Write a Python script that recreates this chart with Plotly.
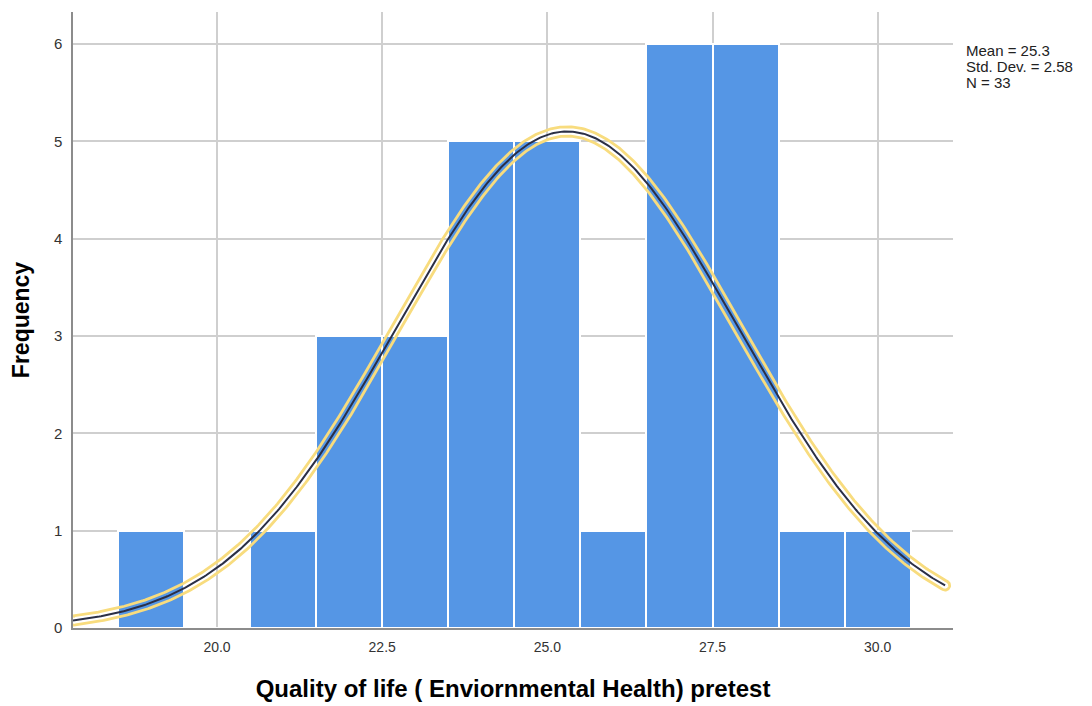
import numpy as np
import plotly.graph_objects as go

bin_centers = [19, 20, 21, 22, 23, 24, 25, 26, 27, 28, 29, 30]
frequencies = [1, 0, 1, 3, 3, 5, 5, 1, 6, 6, 1, 1]
mean_val = 25.3
std_val = 2.58
n_val = 33
x_tickvals = [20.0, 22.5, 25.0, 27.5, 30.0]
x_ticklabels = ["20.0", "22.5", "25.0", "27.5", "30.0"]
y_tickvals = [0, 1, 2, 3, 4, 5, 6]
stat_lines = [f"Mean = {mean_val}", f"Std. Dev. = {std_val}", f"N = {n_val}"]

W, H = 1092, 706
M = dict(l=65, r=147, t=4, b=86)
x_range = [17.82, 31.14]
y_range = [0, 6.33]
pw = W - M["l"] - M["r"]
ph = H - M["t"] - M["b"]

# fitted normal curve from the displayed statistics
xs = np.linspace(x_range[0], 31.02, 500)
ys = n_val * 1.0 / (std_val * np.sqrt(2 * np.pi)) * np.exp(-0.5 * ((xs - mean_val) / std_val) ** 2)

# halo outline: offset the curve by a fixed pixel distance on each side
sx = pw / (x_range[1] - x_range[0])
sy = ph / (y_range[1] - y_range[0])
px = (xs - x_range[0]) * sx
py = ys * sy
dx = np.gradient(px)
dy = np.gradient(py)
nrm = np.hypot(dx, dy)
nx, ny = -dy / nrm, dx / nrm
r = 4.6
upx, upy = px + r * nx, py + r * ny
lox, loy = px - r * nx, py - r * ny
ang0 = np.arctan2(ny[-1], nx[-1])
th = np.linspace(ang0, ang0 - np.pi, 30)
capx = px[-1] + r * np.cos(th)
capy = py[-1] + r * np.sin(th)
th2 = np.linspace(ang0 - np.pi, ang0 - 2 * np.pi, 30)
cap0x = px[0] + r * np.cos(th2)
cap0y = py[0] + r * np.sin(th2)
hx = np.concatenate([upx, capx, lox[::-1], cap0x])
hy = np.concatenate([upy, capy, loy[::-1], cap0y])
halo_x = hx / sx + x_range[0]
halo_y = hy / sy

fig = go.Figure()
fig.add_trace(go.Bar(x=bin_centers, y=frequencies, width=1,
                     marker=dict(color="#5596E5", line=dict(color="white", width=2)),
                     hoverinfo="x+y"))
fig.add_trace(go.Scatter(x=halo_x, y=halo_y, mode="lines",
                         line=dict(color="#F8DC7E", width=2.8), hoverinfo="skip"))
fig.add_trace(go.Scatter(x=xs, y=ys, mode="lines", line=dict(color="#2B2F45", width=2), hoverinfo="skip"))

fig.update_layout(
    width=W, height=H,
    margin=M,
    paper_bgcolor="white", plot_bgcolor="white",
    showlegend=False, bargap=0,
    font=dict(family="Liberation Sans, Arial, sans-serif", color="#333333", size=14),
    xaxis=dict(range=x_range, tickvals=x_tickvals, ticktext=x_ticklabels,
               showgrid=True, gridcolor="#CFCFCF", gridwidth=1.5,
               showline=True, linecolor="#8C8C8C", linewidth=1.5,
               ticks="", zeroline=False, ticklabelstandoff=5,
               tickfont=dict(size=14),
               title=dict(text="<b>Quality of life ( Enviornmental Health) pretest</b>",
                          font=dict(size=24, color="black"), standoff=27)),
    yaxis=dict(range=y_range, tickvals=y_tickvals,
               showgrid=True, gridcolor="#CFCFCF", gridwidth=1.5,
               showline=True, linecolor="#8C8C8C", linewidth=1.5,
               ticks="", zeroline=False, ticklabelstandoff=6,
               tickfont=dict(size=15),
               title=dict(text="<b>Frequency</b>", font=dict(size=23, color="black"), standoff=20)),
)
for i, line in enumerate(stat_lines):
    fig.add_annotation(xref="paper", yref="paper", x=1.013, y=0.955 - i * 0.0265,
                       xanchor="left", yanchor="top", text=line,
                       showarrow=False, align="left",
                       font=dict(size=15, color="#222222"))
fig.write_html("out.html")
